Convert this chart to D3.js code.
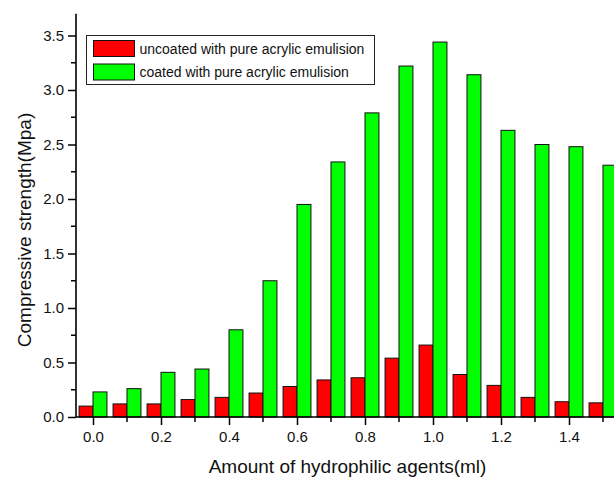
<!DOCTYPE html>
<html>
<head>
<meta charset="utf-8">
<script src="https://cdn.jsdelivr.net/npm/d3@7"></script>
<style>
  html, body { margin: 0; padding: 0; background: #fff; }
  svg { display: block; font-family: "Liberation Sans", Arial, sans-serif; }
</style>
</head>
<body>
<svg id="chart" width="614" height="477"></svg>
<script>
// ---- data ----
const amounts = [0.0, 0.1, 0.2, 0.3, 0.4, 0.5, 0.6, 0.7, 0.8, 0.9, 1.0, 1.1, 1.2, 1.3, 1.4, 1.5];
const uncoated = [0.10, 0.12, 0.12, 0.16, 0.18, 0.22, 0.28, 0.34, 0.36, 0.54, 0.66, 0.39, 0.29, 0.18, 0.14, 0.13];
const coated   = [0.23, 0.26, 0.41, 0.44, 0.80, 1.25, 1.95, 2.34, 2.79, 3.22, 3.44, 3.14, 2.63, 2.50, 2.48, 2.31];
const seriesNames = ["uncoated with pure acrylic emulision", "coated with pure acrylic emulision"];
const xMajorTicks = [0.0, 0.2, 0.4, 0.6, 0.8, 1.0, 1.2, 1.4];
const xMinorTicks = [0.1, 0.3, 0.5, 0.7, 0.9, 1.1, 1.3, 1.5];
const yMajorTicks = [0.0, 0.5, 1.0, 1.5, 2.0, 2.5, 3.0, 3.5];
const yMinorTicks = [0.25, 0.75, 1.25, 1.75, 2.25, 2.75, 3.25];
const xTitle = "Amount of hydrophilic agents(ml)";
const yTitle = "Compressive strength(Mpa)";

const colors = ["#ff0000", "#00ff00"];

const svg = d3.select("#chart");

const x = d3.scaleLinear().domain([-0.05, 1.55]).range([76, 620]);
const y = d3.scaleLinear().domain([0, 3.7]).range([417, 13.7]);
const barW = x(0.041) - x(0);

// bars
const bars = svg.append("g");
bars.selectAll("rect.unc").data(amounts).join("rect")
  .attr("class", "unc")
  .attr("x", (d) => x(d) - barW)
  .attr("y", (d, i) => y(uncoated[i]))
  .attr("width", barW)
  .attr("height", (d, i) => y(0) - y(uncoated[i]))
  .attr("fill", colors[0])
  .attr("stroke", "#111")
  .attr("stroke-width", 1);
bars.selectAll("rect.coa").data(amounts).join("rect")
  .attr("class", "coa")
  .attr("x", (d) => x(d))
  .attr("y", (d, i) => y(coated[i]))
  .attr("width", barW)
  .attr("height", (d, i) => y(0) - y(coated[i]))
  .attr("fill", colors[1])
  .attr("stroke", "#111")
  .attr("stroke-width", 1);

// x axis
const xAxis = svg.append("g").attr("transform", `translate(0,${y(0)})`);
xAxis.call(d3.axisBottom(x).tickValues(xMajorTicks).tickSize(8).tickPadding(6)
  .tickFormat(d3.format(".1f")));
const xMinor = svg.append("g").attr("transform", `translate(0,${y(0)})`);
xMinor.selectAll("line").data(xMinorTicks).join("line")
  .attr("x1", (d) => x(d)).attr("x2", (d) => x(d))
  .attr("y1", 0).attr("y2", 5)
  .attr("stroke", "#000").attr("stroke-width", 1.5);

// y axis
const yAxis = svg.append("g").attr("transform", `translate(${x(-0.05)},0)`);
yAxis.call(d3.axisLeft(y).tickValues(yMajorTicks).tickSize(8).tickPadding(4)
  .tickFormat(d3.format(".1f")));
const yMinor = svg.append("g").attr("transform", `translate(${x(-0.05)},0)`);
yMinor.selectAll("line").data(yMinorTicks).join("line")
  .attr("x1", -5).attr("x2", 0)
  .attr("y1", (d) => y(d)).attr("y2", (d) => y(d))
  .attr("stroke", "#000").attr("stroke-width", 1.5);

[xAxis, yAxis].forEach(g => {
  g.select(".domain").attr("stroke", "#000").attr("stroke-width", 1.6);
  g.selectAll(".tick line").attr("stroke", "#000").attr("stroke-width", 1.5);
  g.selectAll(".tick text").attr("fill", "#111").style("font-size", "15px")
    .style("font-family", '"Liberation Sans", Arial, sans-serif');
});
xAxis.select(".domain").attr("d", `M${x(-0.05)},0H${x(1.55)}`);
yAxis.select(".domain").attr("d", `M0,${y(0)}V${y(3.7)}`);

// axis titles
svg.append("text")
  .attr("x", 347.5)
  .attr("y", 473)
  .attr("text-anchor", "middle")
  .style("font-size", "19px")
  .attr("fill", "#111")
  .text(xTitle);
svg.append("text")
  .attr("transform", `translate(31,230) rotate(-90)`)
  .attr("text-anchor", "middle")
  .style("font-size", "19px")
  .attr("fill", "#111")
  .text(yTitle);

// legend
const lg = svg.append("g");
lg.append("rect").attr("x", 86.5).attr("y", 35.5).attr("width", 288).attr("height", 49)
  .attr("fill", "#fff").attr("stroke", "#222").attr("stroke-width", 1);
seriesNames.forEach((name, i) => {
  const cy = 48.5 + i * 23.5;
  lg.append("rect").attr("x", 93.5).attr("y", cy - 8).attr("width", 41).attr("height", 16)
    .attr("fill", colors[i]).attr("stroke", "#111").attr("stroke-width", 1);
  lg.append("text").attr("x", 139.5).attr("y", cy + 5)
    .style("font-size", "14px").attr("fill", "#111").text(name);
});
</script>
</body>
</html>
